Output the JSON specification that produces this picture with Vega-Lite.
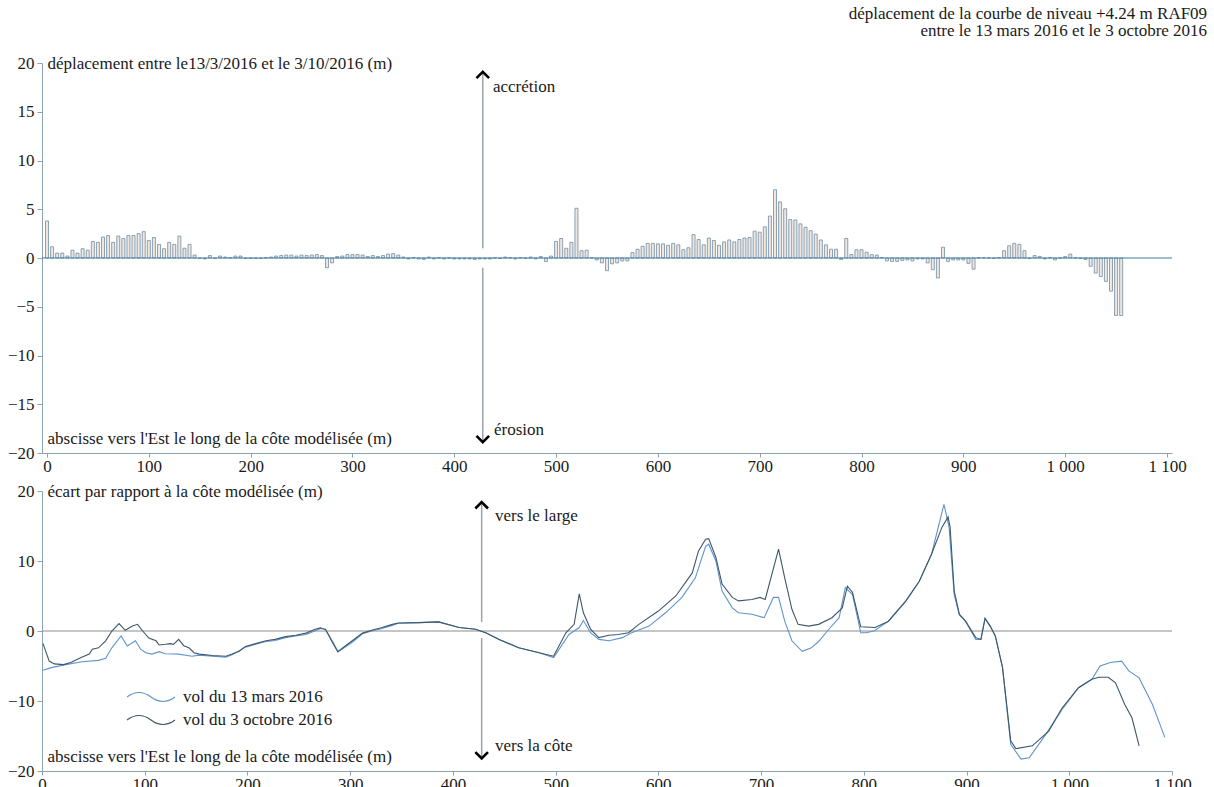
{
  "$schema": "https://vega.github.io/schema/vega-lite/v6.json",
  "background": "white",
  "padding": {"left": 7, "top": 5, "right": 5, "bottom": 5},
  "title": {
    "text": ["déplacement de la courbe de niveau +4.24 m RAF09", "entre le 13 mars 2016 et le 3 octobre 2016"],
    "anchor": "end", "fontSize": 17, "fontWeight": "normal", "font": "Liberation Serif, DejaVu Serif, serif",
    "color": "#1a1a1a", "lineHeight": 17, "offset": 14, "dx": 16
  },
  "spacing": 8,
  "resolve": {"legend": {"color": "independent"}},
  "config": {
    "font": "Liberation Serif, DejaVu Serif, serif",
    "view": {"stroke": null},
    "axis": {
      "labelFont": "Liberation Serif, DejaVu Serif, serif", "labelFontSize": 17, "labelColor": "#1a1a1a",
      "titleFont": "Liberation Serif, DejaVu Serif, serif", "titleFontSize": 17, "titleFontWeight": "normal", "titleColor": "#1a1a1a",
      "domainColor": "#8ea3b2", "tickColor": "#8ea3b2", "grid": false, "tickSize": 5, "labelPadding": 3
    }
  },
  "datasets": {
    "bars": [
      {"abscisse": 0, "valeur": 3.8}, {"abscisse": 5, "valeur": 1.15}, {"abscisse": 10, "valeur": 0.5}, {"abscisse": 15, "valeur": 0.5},
      {"abscisse": 20, "valeur": 0.2}, {"abscisse": 25, "valeur": 0.8}, {"abscisse": 30, "valeur": 0.5}, {"abscisse": 35, "valeur": 0.95},
      {"abscisse": 40, "valeur": 0.8}, {"abscisse": 45, "valeur": 1.7}, {"abscisse": 50, "valeur": 1.6}, {"abscisse": 55, "valeur": 2.15},
      {"abscisse": 60, "valeur": 2.3}, {"abscisse": 65, "valeur": 1.6}, {"abscisse": 70, "valeur": 2.25}, {"abscisse": 75, "valeur": 2.0},
      {"abscisse": 80, "valeur": 2.3}, {"abscisse": 85, "valeur": 2.3}, {"abscisse": 90, "valeur": 2.5}, {"abscisse": 95, "valeur": 2.7},
      {"abscisse": 100, "valeur": 1.8}, {"abscisse": 105, "valeur": 2.1}, {"abscisse": 110, "valeur": 1.4}, {"abscisse": 115, "valeur": 0.95},
      {"abscisse": 120, "valeur": 1.6}, {"abscisse": 125, "valeur": 1.4}, {"abscisse": 130, "valeur": 2.25}, {"abscisse": 135, "valeur": 1.0},
      {"abscisse": 140, "valeur": 1.4}, {"abscisse": 145, "valeur": 0.3}, {"abscisse": 150, "valeur": -0.05}, {"abscisse": 155, "valeur": -0.1},
      {"abscisse": 160, "valeur": 0.25}, {"abscisse": 165, "valeur": -0.05}, {"abscisse": 170, "valeur": 0.2}, {"abscisse": 175, "valeur": 0.1},
      {"abscisse": 180, "valeur": 0.05}, {"abscisse": 185, "valeur": 0.2}, {"abscisse": 190, "valeur": 0.2}, {"abscisse": 195, "valeur": -0.05},
      {"abscisse": 200, "valeur": -0.05}, {"abscisse": 205, "valeur": -0.05}, {"abscisse": 210, "valeur": -0.05}, {"abscisse": 215, "valeur": 0.05},
      {"abscisse": 220, "valeur": 0.1}, {"abscisse": 225, "valeur": 0.2}, {"abscisse": 230, "valeur": 0.25}, {"abscisse": 235, "valeur": 0.3},
      {"abscisse": 240, "valeur": 0.3}, {"abscisse": 245, "valeur": 0.2}, {"abscisse": 250, "valeur": 0.3}, {"abscisse": 255, "valeur": 0.25},
      {"abscisse": 260, "valeur": 0.3}, {"abscisse": 265, "valeur": 0.35}, {"abscisse": 270, "valeur": 0.25}, {"abscisse": 275, "valeur": -1.0},
      {"abscisse": 280, "valeur": -0.5}, {"abscisse": 285, "valeur": 0.15}, {"abscisse": 290, "valeur": 0.2}, {"abscisse": 295, "valeur": 0.35},
      {"abscisse": 300, "valeur": 0.35}, {"abscisse": 305, "valeur": 0.35}, {"abscisse": 310, "valeur": 0.3}, {"abscisse": 315, "valeur": 0.15},
      {"abscisse": 320, "valeur": 0.25}, {"abscisse": 325, "valeur": 0.15}, {"abscisse": 330, "valeur": 0.25}, {"abscisse": 335, "valeur": 0.4},
      {"abscisse": 340, "valeur": 0.45}, {"abscisse": 345, "valeur": 0.3}, {"abscisse": 350, "valeur": 0.1}, {"abscisse": 355, "valeur": -0.1},
      {"abscisse": 360, "valeur": 0.05}, {"abscisse": 365, "valeur": -0.1}, {"abscisse": 370, "valeur": -0.15}, {"abscisse": 375, "valeur": 0.1},
      {"abscisse": 380, "valeur": -0.1}, {"abscisse": 385, "valeur": 0.05}, {"abscisse": 390, "valeur": -0.1}, {"abscisse": 395, "valeur": 0.02},
      {"abscisse": 400, "valeur": -0.1}, {"abscisse": 405, "valeur": -0.1}, {"abscisse": 410, "valeur": -0.1}, {"abscisse": 415, "valeur": -0.1},
      {"abscisse": 420, "valeur": -0.15}, {"abscisse": 425, "valeur": -0.1}, {"abscisse": 430, "valeur": -0.1}, {"abscisse": 435, "valeur": -0.1},
      {"abscisse": 440, "valeur": 0.02}, {"abscisse": 445, "valeur": -0.05}, {"abscisse": 450, "valeur": 0.1}, {"abscisse": 455, "valeur": 0.02},
      {"abscisse": 460, "valeur": -0.1}, {"abscisse": 465, "valeur": 0.05}, {"abscisse": 470, "valeur": -0.05}, {"abscisse": 475, "valeur": 0.1},
      {"abscisse": 480, "valeur": -0.1}, {"abscisse": 485, "valeur": 0.15}, {"abscisse": 490, "valeur": -0.35}, {"abscisse": 495, "valeur": 0.2},
      {"abscisse": 500, "valeur": 1.7}, {"abscisse": 505, "valeur": 2.0}, {"abscisse": 510, "valeur": 1.0}, {"abscisse": 515, "valeur": 1.6},
      {"abscisse": 520, "valeur": 5.1}, {"abscisse": 525, "valeur": 0.75}, {"abscisse": 530, "valeur": 0.8}, {"abscisse": 535, "valeur": 0.02},
      {"abscisse": 540, "valeur": -0.2}, {"abscisse": 545, "valeur": -0.5}, {"abscisse": 550, "valeur": -1.3}, {"abscisse": 555, "valeur": -0.6},
      {"abscisse": 560, "valeur": -0.5}, {"abscisse": 565, "valeur": -0.3}, {"abscisse": 570, "valeur": -0.3}, {"abscisse": 575, "valeur": 0.55},
      {"abscisse": 580, "valeur": 0.9}, {"abscisse": 585, "valeur": 1.2}, {"abscisse": 590, "valeur": 1.5}, {"abscisse": 595, "valeur": 1.5},
      {"abscisse": 600, "valeur": 1.45}, {"abscisse": 605, "valeur": 1.45}, {"abscisse": 610, "valeur": 1.3}, {"abscisse": 615, "valeur": 1.5},
      {"abscisse": 620, "valeur": 1.35}, {"abscisse": 625, "valeur": 0.85}, {"abscisse": 630, "valeur": 1.05}, {"abscisse": 635, "valeur": 2.4},
      {"abscisse": 640, "valeur": 1.9}, {"abscisse": 645, "valeur": 1.35}, {"abscisse": 650, "valeur": 2.05}, {"abscisse": 655, "valeur": 1.8},
      {"abscisse": 660, "valeur": 1.3}, {"abscisse": 665, "valeur": 1.65}, {"abscisse": 670, "valeur": 1.85}, {"abscisse": 675, "valeur": 1.65},
      {"abscisse": 680, "valeur": 1.9}, {"abscisse": 685, "valeur": 2.05}, {"abscisse": 690, "valeur": 2.1}, {"abscisse": 695, "valeur": 2.75},
      {"abscisse": 700, "valeur": 2.65}, {"abscisse": 705, "valeur": 3.2}, {"abscisse": 710, "valeur": 4.3}, {"abscisse": 715, "valeur": 7.0},
      {"abscisse": 720, "valeur": 5.75}, {"abscisse": 725, "valeur": 5.05}, {"abscisse": 730, "valeur": 3.95}, {"abscisse": 735, "valeur": 3.9},
      {"abscisse": 740, "valeur": 3.5}, {"abscisse": 745, "valeur": 3.15}, {"abscisse": 750, "valeur": 2.8}, {"abscisse": 755, "valeur": 2.45},
      {"abscisse": 760, "valeur": 1.85}, {"abscisse": 765, "valeur": 1.35}, {"abscisse": 770, "valeur": 0.9}, {"abscisse": 775, "valeur": 0.9},
      {"abscisse": 780, "valeur": -0.15}, {"abscisse": 785, "valeur": 2.0}, {"abscisse": 790, "valeur": 0.35}, {"abscisse": 795, "valeur": 0.85},
      {"abscisse": 800, "valeur": 0.85}, {"abscisse": 805, "valeur": 0.6}, {"abscisse": 810, "valeur": 0.35}, {"abscisse": 815, "valeur": 0.3},
      {"abscisse": 820, "valeur": 0.05}, {"abscisse": 825, "valeur": -0.3}, {"abscisse": 830, "valeur": -0.35}, {"abscisse": 835, "valeur": -0.35},
      {"abscisse": 840, "valeur": -0.25}, {"abscisse": 845, "valeur": -0.2}, {"abscisse": 850, "valeur": -0.3}, {"abscisse": 855, "valeur": -0.1},
      {"abscisse": 860, "valeur": -0.1}, {"abscisse": 865, "valeur": -0.5}, {"abscisse": 870, "valeur": -1.2}, {"abscisse": 875, "valeur": -2.05},
      {"abscisse": 880, "valeur": 1.1}, {"abscisse": 885, "valeur": -0.35}, {"abscisse": 890, "valeur": -0.2}, {"abscisse": 895, "valeur": -0.2},
      {"abscisse": 900, "valeur": -0.2}, {"abscisse": 905, "valeur": -0.55}, {"abscisse": 910, "valeur": -1.15}, {"abscisse": 915, "valeur": 0.02},
      {"abscisse": 920, "valeur": 0.02}, {"abscisse": 925, "valeur": 0.02}, {"abscisse": 930, "valeur": -0.05}, {"abscisse": 935, "valeur": 0.05},
      {"abscisse": 940, "valeur": 0.75}, {"abscisse": 945, "valeur": 1.25}, {"abscisse": 950, "valeur": 1.5}, {"abscisse": 955, "valeur": 1.4},
      {"abscisse": 960, "valeur": 0.75}, {"abscisse": 965, "valeur": -0.05}, {"abscisse": 970, "valeur": 0.25}, {"abscisse": 975, "valeur": 0.15},
      {"abscisse": 980, "valeur": -0.1}, {"abscisse": 985, "valeur": 0.05}, {"abscisse": 990, "valeur": -0.2}, {"abscisse": 995, "valeur": 0.02},
      {"abscisse": 1000, "valeur": 0.15}, {"abscisse": 1005, "valeur": 0.4}, {"abscisse": 1010, "valeur": 0.02}, {"abscisse": 1015, "valeur": -0.05},
      {"abscisse": 1020, "valeur": -0.15}, {"abscisse": 1025, "valeur": -0.85}, {"abscisse": 1030, "valeur": -1.55}, {"abscisse": 1035, "valeur": -1.9},
      {"abscisse": 1040, "valeur": -2.4}, {"abscisse": 1045, "valeur": -3.4}, {"abscisse": 1050, "valeur": -5.9}, {"abscisse": 1055, "valeur": -5.9}
    ],
    "lignes": [
      {"vol": "vol du 13 mars 2016", "abscisse": 1, "valeur": -5.6},
      {"vol": "vol du 13 mars 2016", "abscisse": 10, "valeur": -5.2},
      {"vol": "vol du 13 mars 2016", "abscisse": 23, "valeur": -4.8},
      {"vol": "vol du 13 mars 2016", "abscisse": 39, "valeur": -4.4},
      {"vol": "vol du 13 mars 2016", "abscisse": 55, "valeur": -4.2},
      {"vol": "vol du 13 mars 2016", "abscisse": 62, "valeur": -3.9},
      {"vol": "vol du 13 mars 2016", "abscisse": 68, "valeur": -2.4},
      {"vol": "vol du 13 mars 2016", "abscisse": 77, "valeur": -0.7},
      {"vol": "vol du 13 mars 2016", "abscisse": 83, "valeur": -2.15},
      {"vol": "vol du 13 mars 2016", "abscisse": 91, "valeur": -1.4},
      {"vol": "vol du 13 mars 2016", "abscisse": 96, "valeur": -2.6},
      {"vol": "vol du 13 mars 2016", "abscisse": 101, "valeur": -3.1},
      {"vol": "vol du 13 mars 2016", "abscisse": 107, "valeur": -3.3},
      {"vol": "vol du 13 mars 2016", "abscisse": 114, "valeur": -2.95},
      {"vol": "vol du 13 mars 2016", "abscisse": 120, "valeur": -3.25},
      {"vol": "vol du 13 mars 2016", "abscisse": 133, "valeur": -3.3},
      {"vol": "vol du 13 mars 2016", "abscisse": 146, "valeur": -3.6},
      {"vol": "vol du 13 mars 2016", "abscisse": 153, "valeur": -3.45},
      {"vol": "vol du 13 mars 2016", "abscisse": 166, "valeur": -3.6},
      {"vol": "vol du 13 mars 2016", "abscisse": 179, "valeur": -3.75},
      {"vol": "vol du 13 mars 2016", "abscisse": 185, "valeur": -3.4},
      {"vol": "vol du 13 mars 2016", "abscisse": 192, "valeur": -2.8},
      {"vol": "vol du 13 mars 2016", "abscisse": 198, "valeur": -2.3},
      {"vol": "vol du 13 mars 2016", "abscisse": 208, "valeur": -1.9},
      {"vol": "vol du 13 mars 2016", "abscisse": 218, "valeur": -1.5},
      {"vol": "vol du 13 mars 2016", "abscisse": 227, "valeur": -1.35},
      {"vol": "vol du 13 mars 2016", "abscisse": 237, "valeur": -0.95},
      {"vol": "vol du 13 mars 2016", "abscisse": 247, "valeur": -0.7},
      {"vol": "vol du 13 mars 2016", "abscisse": 257, "valeur": -0.5},
      {"vol": "vol du 13 mars 2016", "abscisse": 266, "valeur": 0.05},
      {"vol": "vol du 13 mars 2016", "abscisse": 271, "valeur": 0.35},
      {"vol": "vol du 13 mars 2016", "abscisse": 276, "valeur": 0.25},
      {"vol": "vol du 13 mars 2016", "abscisse": 283, "valeur": -1.5},
      {"vol": "vol du 13 mars 2016", "abscisse": 288, "valeur": -2.9},
      {"vol": "vol du 13 mars 2016", "abscisse": 292, "valeur": -2.6},
      {"vol": "vol du 13 mars 2016", "abscisse": 302, "valeur": -1.6},
      {"vol": "vol du 13 mars 2016", "abscisse": 312, "valeur": -0.4},
      {"vol": "vol du 13 mars 2016", "abscisse": 321, "valeur": 0.0},
      {"vol": "vol du 13 mars 2016", "abscisse": 331, "valeur": 0.35},
      {"vol": "vol du 13 mars 2016", "abscisse": 341, "valeur": 0.8},
      {"vol": "vol du 13 mars 2016", "abscisse": 347, "valeur": 1.1},
      {"vol": "vol du 13 mars 2016", "abscisse": 367, "valeur": 1.2},
      {"vol": "vol du 13 mars 2016", "abscisse": 386, "valeur": 1.3},
      {"vol": "vol du 13 mars 2016", "abscisse": 406, "valeur": 0.5},
      {"vol": "vol du 13 mars 2016", "abscisse": 422, "valeur": 0.25},
      {"vol": "vol du 13 mars 2016", "abscisse": 432, "valeur": -0.25},
      {"vol": "vol du 13 mars 2016", "abscisse": 445, "valeur": -1.2},
      {"vol": "vol du 13 mars 2016", "abscisse": 464, "valeur": -2.4},
      {"vol": "vol du 13 mars 2016", "abscisse": 484, "valeur": -3.1},
      {"vol": "vol du 13 mars 2016", "abscisse": 498, "valeur": -3.8},
      {"vol": "vol du 13 mars 2016", "abscisse": 513, "valeur": -0.5},
      {"vol": "vol du 13 mars 2016", "abscisse": 523, "valeur": 0.5},
      {"vol": "vol du 13 mars 2016", "abscisse": 527, "valeur": 1.5},
      {"vol": "vol du 13 mars 2016", "abscisse": 534, "valeur": -0.25},
      {"vol": "vol du 13 mars 2016", "abscisse": 542, "valeur": -1.2},
      {"vol": "vol du 13 mars 2016", "abscisse": 552, "valeur": -1.4},
      {"vol": "vol du 13 mars 2016", "abscisse": 565, "valeur": -0.95},
      {"vol": "vol du 13 mars 2016", "abscisse": 574, "valeur": -0.25},
      {"vol": "vol du 13 mars 2016", "abscisse": 591, "valeur": 0.7},
      {"vol": "vol du 13 mars 2016", "abscisse": 607, "valeur": 2.6},
      {"vol": "vol du 13 mars 2016", "abscisse": 623, "valeur": 4.8},
      {"vol": "vol du 13 mars 2016", "abscisse": 636, "valeur": 7.6},
      {"vol": "vol du 13 mars 2016", "abscisse": 646, "valeur": 12.1},
      {"vol": "vol du 13 mars 2016", "abscisse": 649, "valeur": 12.4},
      {"vol": "vol du 13 mars 2016", "abscisse": 656, "valeur": 10.0},
      {"vol": "vol du 13 mars 2016", "abscisse": 662, "valeur": 5.7},
      {"vol": "vol du 13 mars 2016", "abscisse": 672, "valeur": 3.3},
      {"vol": "vol du 13 mars 2016", "abscisse": 678, "valeur": 2.6},
      {"vol": "vol du 13 mars 2016", "abscisse": 691, "valeur": 2.4},
      {"vol": "vol du 13 mars 2016", "abscisse": 703, "valeur": 1.9},
      {"vol": "vol du 13 mars 2016", "abscisse": 712, "valeur": 4.8},
      {"vol": "vol du 13 mars 2016", "abscisse": 717, "valeur": 4.8},
      {"vol": "vol du 13 mars 2016", "abscisse": 723, "valeur": 1.4},
      {"vol": "vol du 13 mars 2016", "abscisse": 730, "valeur": -1.4},
      {"vol": "vol du 13 mars 2016", "abscisse": 740, "valeur": -2.9},
      {"vol": "vol du 13 mars 2016", "abscisse": 749, "valeur": -2.4},
      {"vol": "vol du 13 mars 2016", "abscisse": 756, "valeur": -1.5},
      {"vol": "vol du 13 mars 2016", "abscisse": 766, "valeur": 0.25},
      {"vol": "vol du 13 mars 2016", "abscisse": 776, "valeur": 1.9},
      {"vol": "vol du 13 mars 2016", "abscisse": 782, "valeur": 6.2},
      {"vol": "vol du 13 mars 2016", "abscisse": 789, "valeur": 5.2},
      {"vol": "vol du 13 mars 2016", "abscisse": 797, "valeur": -0.25},
      {"vol": "vol du 13 mars 2016", "abscisse": 802, "valeur": -0.25},
      {"vol": "vol du 13 mars 2016", "abscisse": 810, "valeur": 0.0},
      {"vol": "vol du 13 mars 2016", "abscisse": 824, "valeur": 1.4},
      {"vol": "vol du 13 mars 2016", "abscisse": 841, "valeur": 4.3},
      {"vol": "vol du 13 mars 2016", "abscisse": 854, "valeur": 7.1},
      {"vol": "vol du 13 mars 2016", "abscisse": 866, "valeur": 11.0},
      {"vol": "vol du 13 mars 2016", "abscisse": 878, "valeur": 18.1},
      {"vol": "vol du 13 mars 2016", "abscisse": 883, "valeur": 14.8},
      {"vol": "vol du 13 mars 2016", "abscisse": 888, "valeur": 5.2},
      {"vol": "vol du 13 mars 2016", "abscisse": 893, "valeur": 2.3},
      {"vol": "vol du 13 mars 2016", "abscisse": 899, "valeur": 1.4},
      {"vol": "vol du 13 mars 2016", "abscisse": 909, "valeur": -1.2},
      {"vol": "vol du 13 mars 2016", "abscisse": 914, "valeur": -1.2},
      {"vol": "vol du 13 mars 2016", "abscisse": 918, "valeur": 1.8},
      {"vol": "vol du 13 mars 2016", "abscisse": 923, "valeur": 0.7},
      {"vol": "vol du 13 mars 2016", "abscisse": 928, "valeur": -0.7},
      {"vol": "vol du 13 mars 2016", "abscisse": 935, "valeur": -5.2},
      {"vol": "vol du 13 mars 2016", "abscisse": 943, "valeur": -16.2},
      {"vol": "vol du 13 mars 2016", "abscisse": 953, "valeur": -18.3},
      {"vol": "vol du 13 mars 2016", "abscisse": 961, "valeur": -18.1},
      {"vol": "vol du 13 mars 2016", "abscisse": 977, "valeur": -14.8},
      {"vol": "vol du 13 mars 2016", "abscisse": 993, "valeur": -11.2},
      {"vol": "vol du 13 mars 2016", "abscisse": 1009, "valeur": -8.1},
      {"vol": "vol du 13 mars 2016", "abscisse": 1022, "valeur": -6.9},
      {"vol": "vol du 13 mars 2016", "abscisse": 1030, "valeur": -5.0},
      {"vol": "vol du 13 mars 2016", "abscisse": 1040, "valeur": -4.5},
      {"vol": "vol du 13 mars 2016", "abscisse": 1051, "valeur": -4.3},
      {"vol": "vol du 13 mars 2016", "abscisse": 1058, "valeur": -5.7},
      {"vol": "vol du 13 mars 2016", "abscisse": 1068, "valeur": -6.7},
      {"vol": "vol du 13 mars 2016", "abscisse": 1081, "valeur": -10.5},
      {"vol": "vol du 13 mars 2016", "abscisse": 1093, "valeur": -15.2},
      {"vol": "vol du 3 octobre 2016", "abscisse": 1, "valeur": -1.8},
      {"vol": "vol du 3 octobre 2016", "abscisse": 7, "valeur": -4.3},
      {"vol": "vol du 3 octobre 2016", "abscisse": 12, "valeur": -4.7},
      {"vol": "vol du 3 octobre 2016", "abscisse": 21, "valeur": -4.8},
      {"vol": "vol du 3 octobre 2016", "abscisse": 28, "valeur": -4.5},
      {"vol": "vol du 3 octobre 2016", "abscisse": 38, "valeur": -3.8},
      {"vol": "vol du 3 octobre 2016", "abscisse": 46, "valeur": -3.3},
      {"vol": "vol du 3 octobre 2016", "abscisse": 49, "valeur": -2.6},
      {"vol": "vol du 3 octobre 2016", "abscisse": 55, "valeur": -2.4},
      {"vol": "vol du 3 octobre 2016", "abscisse": 62, "valeur": -1.4},
      {"vol": "vol du 3 octobre 2016", "abscisse": 68, "valeur": 0.0},
      {"vol": "vol du 3 octobre 2016", "abscisse": 75, "valeur": 1.05},
      {"vol": "vol du 3 octobre 2016", "abscisse": 81, "valeur": 0.1},
      {"vol": "vol du 3 octobre 2016", "abscisse": 88, "valeur": 0.7},
      {"vol": "vol du 3 octobre 2016", "abscisse": 93, "valeur": 0.95},
      {"vol": "vol du 3 octobre 2016", "abscisse": 98, "valeur": 0.0},
      {"vol": "vol du 3 octobre 2016", "abscisse": 104, "valeur": -1.0},
      {"vol": "vol du 3 octobre 2016", "abscisse": 111, "valeur": -1.4},
      {"vol": "vol du 3 octobre 2016", "abscisse": 114, "valeur": -2.0},
      {"vol": "vol du 3 octobre 2016", "abscisse": 120, "valeur": -1.9},
      {"vol": "vol du 3 octobre 2016", "abscisse": 125, "valeur": -1.8},
      {"vol": "vol du 3 octobre 2016", "abscisse": 128, "valeur": -1.9},
      {"vol": "vol du 3 octobre 2016", "abscisse": 133, "valeur": -1.2},
      {"vol": "vol du 3 octobre 2016", "abscisse": 138, "valeur": -2.1},
      {"vol": "vol du 3 octobre 2016", "abscisse": 143, "valeur": -2.4},
      {"vol": "vol du 3 octobre 2016", "abscisse": 148, "valeur": -3.1},
      {"vol": "vol du 3 octobre 2016", "abscisse": 153, "valeur": -3.3},
      {"vol": "vol du 3 octobre 2016", "abscisse": 166, "valeur": -3.5},
      {"vol": "vol du 3 octobre 2016", "abscisse": 179, "valeur": -3.6},
      {"vol": "vol du 3 octobre 2016", "abscisse": 185, "valeur": -3.3},
      {"vol": "vol du 3 octobre 2016", "abscisse": 192, "valeur": -2.9},
      {"vol": "vol du 3 octobre 2016", "abscisse": 198, "valeur": -2.2},
      {"vol": "vol du 3 octobre 2016", "abscisse": 208, "valeur": -1.8},
      {"vol": "vol du 3 octobre 2016", "abscisse": 218, "valeur": -1.4},
      {"vol": "vol du 3 octobre 2016", "abscisse": 227, "valeur": -1.2},
      {"vol": "vol du 3 octobre 2016", "abscisse": 237, "valeur": -0.8},
      {"vol": "vol du 3 octobre 2016", "abscisse": 247, "valeur": -0.6},
      {"vol": "vol du 3 octobre 2016", "abscisse": 257, "valeur": -0.3},
      {"vol": "vol du 3 octobre 2016", "abscisse": 266, "valeur": 0.25},
      {"vol": "vol du 3 octobre 2016", "abscisse": 271, "valeur": 0.45},
      {"vol": "vol du 3 octobre 2016", "abscisse": 276, "valeur": 0.2},
      {"vol": "vol du 3 octobre 2016", "abscisse": 283, "valeur": -1.7},
      {"vol": "vol du 3 octobre 2016", "abscisse": 288, "valeur": -3.0},
      {"vol": "vol du 3 octobre 2016", "abscisse": 292, "valeur": -2.5},
      {"vol": "vol du 3 octobre 2016", "abscisse": 302, "valeur": -1.4},
      {"vol": "vol du 3 octobre 2016", "abscisse": 312, "valeur": -0.3},
      {"vol": "vol du 3 octobre 2016", "abscisse": 321, "valeur": 0.1},
      {"vol": "vol du 3 octobre 2016", "abscisse": 331, "valeur": 0.5},
      {"vol": "vol du 3 octobre 2016", "abscisse": 341, "valeur": 0.95},
      {"vol": "vol du 3 octobre 2016", "abscisse": 347, "valeur": 1.15},
      {"vol": "vol du 3 octobre 2016", "abscisse": 367, "valeur": 1.2},
      {"vol": "vol du 3 octobre 2016", "abscisse": 386, "valeur": 1.3},
      {"vol": "vol du 3 octobre 2016", "abscisse": 406, "valeur": 0.5},
      {"vol": "vol du 3 octobre 2016", "abscisse": 422, "valeur": 0.25},
      {"vol": "vol du 3 octobre 2016", "abscisse": 432, "valeur": -0.25},
      {"vol": "vol du 3 octobre 2016", "abscisse": 445, "valeur": -1.2},
      {"vol": "vol du 3 octobre 2016", "abscisse": 464, "valeur": -2.4},
      {"vol": "vol du 3 octobre 2016", "abscisse": 484, "valeur": -3.1},
      {"vol": "vol du 3 octobre 2016", "abscisse": 498, "valeur": -3.6},
      {"vol": "vol du 3 octobre 2016", "abscisse": 510, "valeur": -0.25},
      {"vol": "vol du 3 octobre 2016", "abscisse": 518, "valeur": 0.95},
      {"vol": "vol du 3 octobre 2016", "abscisse": 523, "valeur": 5.3},
      {"vol": "vol du 3 octobre 2016", "abscisse": 527, "valeur": 2.6},
      {"vol": "vol du 3 octobre 2016", "abscisse": 534, "valeur": 0.25},
      {"vol": "vol du 3 octobre 2016", "abscisse": 542, "valeur": -0.95},
      {"vol": "vol du 3 octobre 2016", "abscisse": 552, "valeur": -0.6},
      {"vol": "vol du 3 octobre 2016", "abscisse": 561, "valeur": -0.5},
      {"vol": "vol du 3 octobre 2016", "abscisse": 571, "valeur": -0.25},
      {"vol": "vol du 3 octobre 2016", "abscisse": 581, "valeur": 0.95},
      {"vol": "vol du 3 octobre 2016", "abscisse": 600, "valeur": 2.85},
      {"vol": "vol du 3 octobre 2016", "abscisse": 617, "valeur": 5.0},
      {"vol": "vol du 3 octobre 2016", "abscisse": 633, "valeur": 8.3},
      {"vol": "vol du 3 octobre 2016", "abscisse": 639, "valeur": 11.4},
      {"vol": "vol du 3 octobre 2016", "abscisse": 646, "valeur": 13.1},
      {"vol": "vol du 3 octobre 2016", "abscisse": 649, "valeur": 13.2},
      {"vol": "vol du 3 octobre 2016", "abscisse": 656, "valeur": 10.5},
      {"vol": "vol du 3 octobre 2016", "abscisse": 662, "valeur": 6.7},
      {"vol": "vol du 3 octobre 2016", "abscisse": 672, "valeur": 4.8},
      {"vol": "vol du 3 octobre 2016", "abscisse": 678, "valeur": 4.3},
      {"vol": "vol du 3 octobre 2016", "abscisse": 691, "valeur": 4.5},
      {"vol": "vol du 3 octobre 2016", "abscisse": 699, "valeur": 4.8},
      {"vol": "vol du 3 octobre 2016", "abscisse": 704, "valeur": 4.5},
      {"vol": "vol du 3 octobre 2016", "abscisse": 717, "valeur": 11.7},
      {"vol": "vol du 3 octobre 2016", "abscisse": 723, "valeur": 7.6},
      {"vol": "vol du 3 octobre 2016", "abscisse": 730, "valeur": 3.1},
      {"vol": "vol du 3 octobre 2016", "abscisse": 736, "valeur": 0.95},
      {"vol": "vol du 3 octobre 2016", "abscisse": 746, "valeur": 0.7},
      {"vol": "vol du 3 octobre 2016", "abscisse": 756, "valeur": 0.95},
      {"vol": "vol du 3 octobre 2016", "abscisse": 769, "valeur": 1.9},
      {"vol": "vol du 3 octobre 2016", "abscisse": 779, "valeur": 3.3},
      {"vol": "vol du 3 octobre 2016", "abscisse": 784, "valeur": 6.4},
      {"vol": "vol du 3 octobre 2016", "abscisse": 789, "valeur": 5.5},
      {"vol": "vol du 3 octobre 2016", "abscisse": 797, "valeur": 0.6},
      {"vol": "vol du 3 octobre 2016", "abscisse": 811, "valeur": 0.5},
      {"vol": "vol du 3 octobre 2016", "abscisse": 824, "valeur": 1.4},
      {"vol": "vol du 3 octobre 2016", "abscisse": 841, "valeur": 4.3},
      {"vol": "vol du 3 octobre 2016", "abscisse": 854, "valeur": 7.1},
      {"vol": "vol du 3 octobre 2016", "abscisse": 866, "valeur": 11.0},
      {"vol": "vol du 3 octobre 2016", "abscisse": 876, "valeur": 14.8},
      {"vol": "vol du 3 octobre 2016", "abscisse": 882, "valeur": 16.3},
      {"vol": "vol du 3 octobre 2016", "abscisse": 884, "valeur": 14.8},
      {"vol": "vol du 3 octobre 2016", "abscisse": 888, "valeur": 5.7},
      {"vol": "vol du 3 octobre 2016", "abscisse": 893, "valeur": 2.4},
      {"vol": "vol du 3 octobre 2016", "abscisse": 899, "valeur": 1.4},
      {"vol": "vol du 3 octobre 2016", "abscisse": 909, "valeur": -0.95},
      {"vol": "vol du 3 octobre 2016", "abscisse": 914, "valeur": -1.2},
      {"vol": "vol du 3 octobre 2016", "abscisse": 918, "valeur": 1.8},
      {"vol": "vol du 3 octobre 2016", "abscisse": 923, "valeur": 0.7},
      {"vol": "vol du 3 octobre 2016", "abscisse": 928, "valeur": -0.7},
      {"vol": "vol du 3 octobre 2016", "abscisse": 935, "valeur": -5.2},
      {"vol": "vol du 3 octobre 2016", "abscisse": 943, "valeur": -15.7},
      {"vol": "vol du 3 octobre 2016", "abscisse": 948, "valeur": -16.8},
      {"vol": "vol du 3 octobre 2016", "abscisse": 964, "valeur": -16.4},
      {"vol": "vol du 3 octobre 2016", "abscisse": 980, "valeur": -14.3},
      {"vol": "vol du 3 octobre 2016", "abscisse": 993, "valeur": -11.0},
      {"vol": "vol du 3 octobre 2016", "abscisse": 1009, "valeur": -8.1},
      {"vol": "vol du 3 octobre 2016", "abscisse": 1022, "valeur": -6.9},
      {"vol": "vol du 3 octobre 2016", "abscisse": 1029, "valeur": -6.6},
      {"vol": "vol du 3 octobre 2016", "abscisse": 1038, "valeur": -6.6},
      {"vol": "vol du 3 octobre 2016", "abscisse": 1045, "valeur": -7.4},
      {"vol": "vol du 3 octobre 2016", "abscisse": 1054, "valeur": -10.5},
      {"vol": "vol du 3 octobre 2016", "abscisse": 1061, "valeur": -12.4},
      {"vol": "vol du 3 octobre 2016", "abscisse": 1068, "valeur": -16.4}
    ]
  },
  "vconcat": [
    {
      "width": 1130,
      "height": 390,
      "layer": [
        {
          "data": {"name": "bars"},
          "mark": {"type": "bar", "size": 3, "fill": "#f1e5de", "stroke": "#6d8ea6", "strokeWidth": 0.8},
          "encoding": {
            "x": {"field": "abscisse", "type": "quantitative",
              "scale": {"domain": [0, 1100], "nice": false},
              "axis": {"values": [0, 100, 200, 300, 400, 500, 600, 700, 800, 900, 1000, 1100],
                "labelExpr": "replace(format(datum.value, ','), ',', ' ')", "labelFlush": false, "labelPadding": 1, "tickSize": 4,
                "title": "abscisse vers l'Est le long de la côte modélisée (m)",
                "titleX": 5, "titleY": -15, "titleAlign": "left", "titleBaseline": "middle", "titleAnchor": "start"}},
            "y": {"field": "valeur", "type": "quantitative", "stack": null,
              "scale": {"domain": [-20, 20], "nice": false, "zero": false},
              "axis": {"values": [-20, -15, -10, -5, 0, 5, 10, 15, 20],
                "title": "déplacement entre le13/3/2016 et le 3/10/2016 (m)",
                "titleAngle": 0, "titleX": 5, "titleY": 0, "titleAlign": "left", "titleBaseline": "middle", "titleAnchor": "start"}}
          }
        },
        {
          "data": {"values": [{"valeur": 0}]},
          "mark": {"type": "rule", "color": "#3f7f9c", "strokeWidth": 1.2},
          "encoding": {"y": {"field": "valeur", "type": "quantitative"}}
        },
        {
          "data": {"values": [{"abscisse": 428, "valeur": 1, "valeur2": 18.9}, {"abscisse": 428, "valeur": -1, "valeur2": -18.7}]},
          "mark": {"type": "rule", "color": "#9aa4aa", "strokeWidth": 1.5},
          "encoding": {"x": {"field": "abscisse", "type": "quantitative"}, "y": {"field": "valeur", "type": "quantitative"}, "y2": {"field": "valeur2"}}
        },
        {
          "data": {"values": [{"abscisse": 428, "valeur": 18.8}]},
          "mark": {"type": "point", "shape": "M-1,0.55L0,-0.45L1,0.55", "filled": false, "stroke": "#000", "strokeWidth": 2.6, "size": 160, "opacity": 1},
          "encoding": {"x": {"field": "abscisse", "type": "quantitative"}, "y": {"field": "valeur", "type": "quantitative"}}
        },
        {
          "data": {"values": [{"abscisse": 428, "valeur": -18.6}]},
          "mark": {"type": "point", "shape": "M-1,-0.55L0,0.45L1,-0.55", "filled": false, "stroke": "#000", "strokeWidth": 2.6, "size": 160, "opacity": 1},
          "encoding": {"x": {"field": "abscisse", "type": "quantitative"}, "y": {"field": "valeur", "type": "quantitative"}}
        },
        {
          "data": {"values": [{"abscisse": 438, "valeur": 17.5, "texte": "accrétion"}, {"abscisse": 439, "valeur": -17.6, "texte": "érosion"}]},
          "mark": {"type": "text", "align": "left", "baseline": "middle", "fontSize": 17, "font": "Liberation Serif, DejaVu Serif, serif", "color": "#1a1a1a"},
          "encoding": {"x": {"field": "abscisse", "type": "quantitative"}, "y": {"field": "valeur", "type": "quantitative"}, "text": {"field": "texte"}}
        }
      ]
    },
    {
      "width": 1130,
      "height": 280,
      "layer": [
        {
          "data": {"values": [{"valeur": 0}]},
          "mark": {"type": "rule", "color": "#8c8c8c", "strokeWidth": 1.2},
          "encoding": {
            "y": {"field": "valeur", "type": "quantitative",
              "scale": {"domain": [-20, 20], "nice": false, "zero": false},
              "axis": {"values": [-20, -15, -10, -5, 0, 5, 10, 15, 20],
                "title": "écart par rapport à la côte modélisée (m)",
                "titleAngle": 0, "titleX": 5, "titleY": 0, "titleAlign": "left", "titleBaseline": "middle", "titleAnchor": "start"}}
          }
        },
        {
          "data": {"name": "lignes"},
          "mark": {"type": "line", "strokeWidth": 1.1},
          "encoding": {
            "x": {"field": "abscisse", "type": "quantitative",
              "scale": {"domain": [0, 1100], "nice": false},
              "axis": {"values": [0, 100, 200, 300, 400, 500, 600, 700, 800, 900, 1000, 1100],
                "labelExpr": "replace(format(datum.value, ','), ',', ' ')", "labelFlush": false, "labelPadding": 1, "tickSize": 4,
                "title": "abscisse vers l'Est le long de la côte modélisée (m)",
                "titleX": 5, "titleY": -15, "titleAlign": "left", "titleBaseline": "middle", "titleAnchor": "start"}},
            "y": {"field": "valeur", "type": "quantitative"},
            "color": {"field": "vol", "type": "nominal",
              "scale": {"domain": ["vol du 13 mars 2016", "vol du 3 octobre 2016"], "range": ["#5f94cf", "#3d5868"]},
              "legend": {"title": null, "orient": "none", "legendX": 100, "legendY": 197,
                "symbolType": "M-3,0C-2,-0.75 -1,-0.75 0,0C1,0.75 2,0.75 3,0",
                "symbolSize": 256, "symbolStrokeWidth": 1.2, "symbolFillColor": "transparent",
                "labelFontSize": 17, "labelFont": "Liberation Serif, DejaVu Serif, serif", "labelColor": "#1a1a1a",
                "labelOffset": 23, "rowPadding": 6, "padding": 0}}
          }
        },
        {
          "data": {"values": [{"abscisse": 428, "valeur": 1.3, "valeur2": 18.2}, {"abscisse": 428, "valeur": -1, "valeur2": -18}]},
          "mark": {"type": "rule", "color": "#9aa4aa", "strokeWidth": 1.5},
          "encoding": {"x": {"field": "abscisse", "type": "quantitative"}, "y": {"field": "valeur", "type": "quantitative"}, "y2": {"field": "valeur2"}}
        },
        {
          "data": {"values": [{"abscisse": 428, "valeur": 18.0}]},
          "mark": {"type": "point", "shape": "M-1,0.55L0,-0.45L1,0.55", "filled": false, "stroke": "#000", "strokeWidth": 2.6, "size": 160, "opacity": 1},
          "encoding": {"x": {"field": "abscisse", "type": "quantitative"}, "y": {"field": "valeur", "type": "quantitative"}}
        },
        {
          "data": {"values": [{"abscisse": 428, "valeur": -17.8}]},
          "mark": {"type": "point", "shape": "M-1,-0.55L0,0.45L1,-0.55", "filled": false, "stroke": "#000", "strokeWidth": 2.6, "size": 160, "opacity": 1},
          "encoding": {"x": {"field": "abscisse", "type": "quantitative"}, "y": {"field": "valeur", "type": "quantitative"}}
        },
        {
          "data": {"values": [{"abscisse": 441, "valeur": 16.4, "texte": "vers le large"}, {"abscisse": 441, "valeur": -16.4, "texte": "vers la côte"}]},
          "mark": {"type": "text", "align": "left", "baseline": "middle", "fontSize": 17, "font": "Liberation Serif, DejaVu Serif, serif", "color": "#1a1a1a"},
          "encoding": {"x": {"field": "abscisse", "type": "quantitative"}, "y": {"field": "valeur", "type": "quantitative"}, "text": {"field": "texte"}}
        }
      ]
    }
  ]
}
